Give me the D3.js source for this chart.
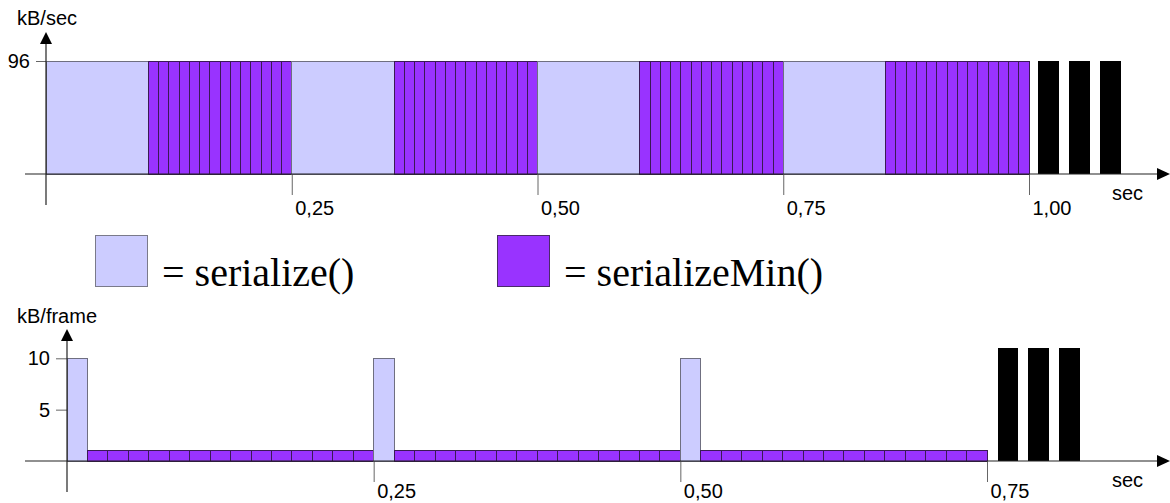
<!DOCTYPE html>
<html>
<head>
<meta charset="utf-8">
<script src="https://cdn.jsdelivr.net/npm/d3@7"></script>
<style>
  body { margin: 0; background: #fff; }
  text { font-family: Arial, "Liberation Sans", sans-serif; fill: #000; }
</style>
</head>
<body>
<svg id="chart" width="1170" height="503"></svg>
<script>
// upper chart: one letter per frame at 96 frames/sec, S = serialize(), M = serializeMin()
const topFps = 96;
const topFrames =
  'SSSSSSSSSSMMMMMMMMMMMMMM' +
  'SSSSSSSSSSMMMMMMMMMMMMMM' +
  'SSSSSSSSSSMMMMMMMMMMMMMM' +
  'SSSSSSSSSSMMMMMMMMMMMMMM';
const topRate = 96; // kB/sec
const topOtherStart = [1.0094, 1.0407, 1.0722];
const topOtherEnd = [1.0308, 1.0621, 1.0936];
const topTickValues = [0.25, 0.5, 0.75, 1.0];
const topTickLabels = ['0,25', '0,50', '0,75', '1,00'];

// lower chart: kB per frame at 60 frames/sec
const bottomFps = 60;
const bottomFrames =
  'SMMMMMMMMMMMMMM' +
  'SMMMMMMMMMMMMMM' +
  'SMMMMMMMMMMMMMM';
const bottomKB = [
  10, 1, 1, 1, 1, 1, 1, 1, 1, 1, 1, 1, 1, 1, 1,
  10, 1, 1, 1, 1, 1, 1, 1, 1, 1, 1, 1, 1, 1, 1,
  10, 1, 1, 1, 1, 1, 1, 1, 1, 1, 1, 1, 1, 1, 1
];
const bottomOtherStart = [0.7587, 0.7837, 0.8087];
const bottomOtherEnd = [0.7755, 0.8005, 0.8255];
const bottomOtherKB = 11;
const bottomTickValues = [0.25, 0.5, 0.75];
const bottomTickLabels = ['0,25', '0,50', '0,75'];

const legendLabels = ['= serialize()', '= serializeMin()'];

const colors = { S: '#ccccff', M: '#9933ff', other: '#000' };
const fontSize = '20px';

const svg = d3.select('#chart');

function drawPanel(opt) {
  const g = svg.append('g');
  const x = opt.x, y = opt.y;
  const base = y(0);

  // bars
  const bars = g.append('g').attr('shape-rendering', 'crispEdges');
  // group consecutive serialize() frames into one block, serializeMin() stays one per frame
  const blocks = [];
  for (let i = 0; i < opt.frames.length; i++) {
    const k = opt.frames[i];
    const v = opt.values(i);
    const last = blocks[blocks.length - 1];
    if (opt.mergeS && k === 'S' && last && last.kind === 'S' && last.end === i) {
      last.end = i + 1;
    } else {
      blocks.push({ kind: k, start: i, end: i + 1, value: v });
    }
  }
  bars.selectAll('rect.frame')
    .data(blocks)
    .enter().append('rect')
    .attr('class', 'frame')
    .attr('x', d => x(d.start / opt.fps))
    .attr('width', d => x(d.end / opt.fps) - x(d.start / opt.fps))
    .attr('y', d => y(d.value))
    .attr('height', d => base - y(d.value))
    .attr('fill', d => colors[d.kind])
    .attr('stroke', d => d.kind === 'S' ? '#6f6f80' : '#3a1a55')
    .attr('stroke-width', 1);

  bars.selectAll('rect.other')
    .data(opt.otherStart)
    .enter().append('rect')
    .attr('class', 'other')
    .attr('x', d => x(d))
    .attr('width', (d, i) => x(opt.otherEnd[i]) - x(d))
    .attr('y', y(opt.otherValue))
    .attr('height', base - y(opt.otherValue))
    .attr('fill', colors.other);

  // x axis
  const xAxis = g.append('g')
    .attr('transform', `translate(0,${base})`)
    .call(d3.axisBottom(x)
      .tickValues(opt.ticks)
      .tickFormat((d, i) => opt.tickLabels[i])
      .tickSize(21));
  xAxis.select('.domain').remove();
  xAxis.selectAll('.tick line').attr('stroke', '#666');
  xAxis.selectAll('.tick text')
    .attr('text-anchor', 'start')
    .attr('x', 3)
    .attr('y', opt.labelDy)
    .attr('dy', null)
    .style('font-size', fontSize)
    .style('font-family', 'Arial, "Liberation Sans", sans-serif');

  g.append('line')
    .attr('x1', 25).attr('x2', 1160)
    .attr('y1', base).attr('y2', base)
    .attr('stroke', '#222').attr('stroke-width', 1.2);
  g.append('path')
    .attr('d', `M1170,${base} L1157,${base - 6} L1157,${base + 6} Z`)
    .attr('fill', '#000');
  g.append('text')
    .attr('x', 1112).attr('y', base + 26)
    .style('font-size', fontSize)
    .text('sec');

  // y axis
  const x0 = x(0);
  const yAxis = g.append('g')
    .attr('transform', `translate(${x0},0)`)
    .call(d3.axisLeft(y)
      .tickValues(opt.yTicks)
      .tickSize(opt.yTickSize)
      .tickPadding(6));
  yAxis.select('.domain').remove();
  yAxis.selectAll('.tick line').attr('stroke', '#666');
  yAxis.selectAll('.tick text')
    .style('font-size', fontSize)
    .style('font-family', 'Arial, "Liberation Sans", sans-serif');

  g.append('line')
    .attr('x1', x0).attr('x2', x0)
    .attr('y1', opt.axisTop + 8).attr('y2', opt.axisBottom)
    .attr('stroke', '#222').attr('stroke-width', 1.2);
  g.append('path')
    .attr('d', `M${x0},${opt.axisTop} L${x0 - 6},${opt.axisTop + 12} L${x0 + 6},${opt.axisTop + 12} Z`)
    .attr('fill', '#000');
  g.append('text')
    .attr('x', 17).attr('y', opt.unitY)
    .style('font-size', fontSize)
    .text(opt.unit);
}

drawPanel({
  x: d3.scaleLinear().domain([0, 1]).range([46, 1029]),
  y: d3.scaleLinear().domain([0, 96]).range([174, 61]),
  fps: topFps,
  frames: topFrames,
  values: () => topRate,
  mergeS: true,
  otherStart: topOtherStart,
  otherEnd: topOtherEnd,
  otherValue: topRate,
  ticks: topTickValues,
  tickLabels: topTickLabels,
  labelDy: 41,
  yTicks: [96],
  yTickSize: 10,
  axisTop: 32,
  axisBottom: 205,
  unit: 'kB/sec',
  unitY: 25
});

drawPanel({
  x: d3.scaleLinear().domain([0, 0.75]).range([67, 987]),
  y: d3.scaleLinear().domain([0, 10]).range([461, 358.3]),
  fps: bottomFps,
  frames: bottomFrames,
  values: i => bottomKB[i],
  mergeS: false,
  otherStart: bottomOtherStart,
  otherEnd: bottomOtherEnd,
  otherValue: bottomOtherKB,
  ticks: bottomTickValues,
  tickLabels: bottomTickLabels,
  labelDy: 37,
  yTicks: [5, 10],
  yTickSize: 11,
  axisTop: 329,
  axisBottom: 492,
  unit: 'kB/frame',
  unitY: 323
});

// legend
const legend = svg.append('g');
const legendKinds = ['S', 'M'];
const legendX = [95, 497];
legend.selectAll('rect')
  .data(legendKinds)
  .enter().append('rect')
  .attr('x', (d, i) => legendX[i] + 0.5)
  .attr('y', 235.5)
  .attr('width', 52)
  .attr('height', 51)
  .attr('fill', d => colors[d])
  .attr('stroke', d => d === 'S' ? '#7a7a8a' : '#4a2a6a')
  .attr('stroke-width', 1);
legend.selectAll('text')
  .data(legendLabels)
  .enter().append('text')
  .attr('x', (d, i) => legendX[i] + 67)
  .attr('y', 286)
  .style('font-family', '"Liberation Serif", "Times New Roman", serif')
  .style('font-size', '40px')
  .text(d => d);
</script>
</body>
</html>
